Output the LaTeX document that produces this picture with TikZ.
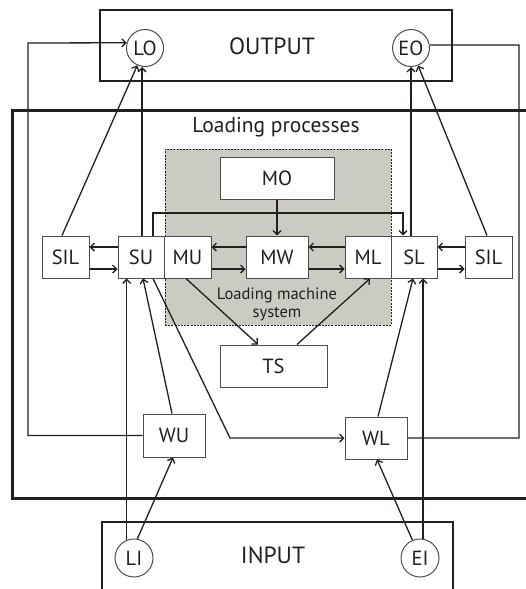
\documentclass[tikz,border=0pt]{standalone}
\usepackage{fontspec}
\setmainfont{PT Sans}
\usetikzlibrary{arrows.meta}
\definecolor{shade}{RGB}{204,203,195}
\definecolor{ink}{RGB}{35,31,32}
\begin{document}
\begin{tikzpicture}[x=1pt,y=-1pt,
  box/.style={draw=ink!80, line width=1pt, fill=white, inner sep=0pt, text=ink, font=\fontsize{20.5}{22}\selectfont},
  circ/.style={draw=ink!80, circle, line width=1pt, inner sep=0pt, text=ink, font=\fontsize{20.5}{22}\selectfont},
  big/.style={text=ink, font=\fontsize{23.5}{25}\selectfont},
  arr/.style={draw=ink, line width=1.3pt, -{Straight Barb[length=4pt,width=8pt]}},
  ln/.style={draw=ink, line width=1.3pt},
]
\useasboundingbox (0,0) rectangle (525,589);

% outer frames
\node[draw=ink, line width=1.3pt, minimum width=352pt, minimum height=71pt, inner sep=0pt] (outbox) at (276,45.5) {};
\node[big] (outtxt) at (272,46) {OUTPUT};
\node[draw=ink, line width=1.3pt, minimum width=351pt, minimum height=98pt, inner sep=0pt] (inbox) at (277.5,571) {};
\node[big] (intxt) at (273,555) {INPUT};
\draw[draw=ink, line width=3pt] (560,110) -- (12,110) -- (12,498) -- (560,498);
\node[text=ink, font=\fontsize{21.5}{24}\selectfont] (lp) at (276,127) {Loading processes};

% loading machine system
\node[draw=ink, line width=1pt, dash pattern=on 2pt off 1.2pt, fill=shade, minimum width=226pt, minimum height=176pt, inner sep=0pt] (lms) at (278,237) {};
\node[text=ink, align=center, font=\fontsize{16.5}{18}\selectfont] (lmstxt) at (277,304) {Loading machine\\system};

% boxes
\node[box, minimum width=114pt, minimum height=42pt] (MO) at (277,178) {MO};
\node[box, minimum width=47pt, minimum height=42pt] (SILL) at (65.5,257) {SIL};
\node[box, minimum width=46pt, minimum height=42pt] (SU) at (141,257) {SU};
\node[box, minimum width=47pt, minimum height=42pt] (MU) at (187.5,257) {MU};
\node[box, minimum width=62pt, minimum height=42pt] (MW) at (277,257) {MW};
\node[box, minimum width=46pt, minimum height=42pt] (ML) at (368,257) {ML};
\node[box, minimum width=46pt, minimum height=42pt] (SL) at (414,257) {SL};
\node[box, minimum width=47pt, minimum height=42pt] (SILR) at (488.5,257) {SIL};
\node[box, minimum width=107pt, minimum height=42pt] (TS) at (273.5,366) {TS};
\node[box, minimum width=62pt, minimum height=43pt] (WU) at (174,435.5) {WU};
\node[box, minimum width=62pt, minimum height=42pt] (WL) at (376,438) {WL};

% circles
\node[circ, minimum size=37pt] (LO) at (145,48) {LO};
\node[circ, minimum size=37pt] (EO) at (411,48) {EO};
\node[circ, minimum size=38pt] (LI) at (134,558) {LI};
\node[circ, minimum size=38pt] (EI) at (420,558) {EI};

% connectors to outputs
\draw[arr] (SILL.north -| 62,0) -- (LO);
\draw[arr] (SU.north -| 142,0) -- (LO.south -| 142,0);
\draw[arr] (WU.west) -- (28,435.5) -- (28,43) -- (LO.164);
\draw[arr] (SL.north -| EO.south) -- (EO.south);
\draw[arr] (SILR.north -| 487,0) -- (EO);
\draw[ln] (EO.9) -- (519,45) -- (519,438) -- (WL.east);

% top link SU -> SL and MO -> MW
\draw[arr] (SU.north -| 153,0) -- (153,213) -- (403,213) -- (SL.north -| 403,0);
\draw[arr] (MO) -- (MW);

% row arrows
\draw[arr] (SU.west |- 0,247) -- (SILL.east |- 0,247);
\draw[arr] (SILL.east |- 0,269) -- (SU.west |- 0,269);
\draw[arr] (MW.west |- 0,247) -- (MU.east |- 0,247);
\draw[arr] (MU.east |- 0,269) -- (MW.west |- 0,269);
\draw[arr] (ML.west |- 0,247) -- (MW.east |- 0,247);
\draw[arr] (MW.east |- 0,269) -- (ML.west |- 0,269);
\draw[arr] (SILR.west |- 0,247) -- (SL.east |- 0,247);
\draw[arr] (SL.east |- 0,269) -- (SILR.west |- 0,269);

% lower connectors
\draw[arr] (LI.112) -- (LI.112 |- SU.south);
\draw[arr] (WU.north -| 172,0) -- (SU.south -| 143,0);
\draw[arr] (SU.south -| 153,0) -- (230,438) -- (WL.west);
\draw[arr] (MU.south -| 186,0) -- (TS.north -| 258,0);
\draw[arr] (TS.north -| 297,0) -- (ML.south -| 370,0);
\draw[arr] (WL.north -| 378,0) -- (SL.south -| 413,0);
\draw[arr] (EI.81) -- (EI.81 |- SL.south);
\draw[arr] (LI.80) -- (WU.south -| 173,0);
\draw[arr] (EI.113) -- (WL.south -| 377,0);
\end{tikzpicture}
\end{document}
